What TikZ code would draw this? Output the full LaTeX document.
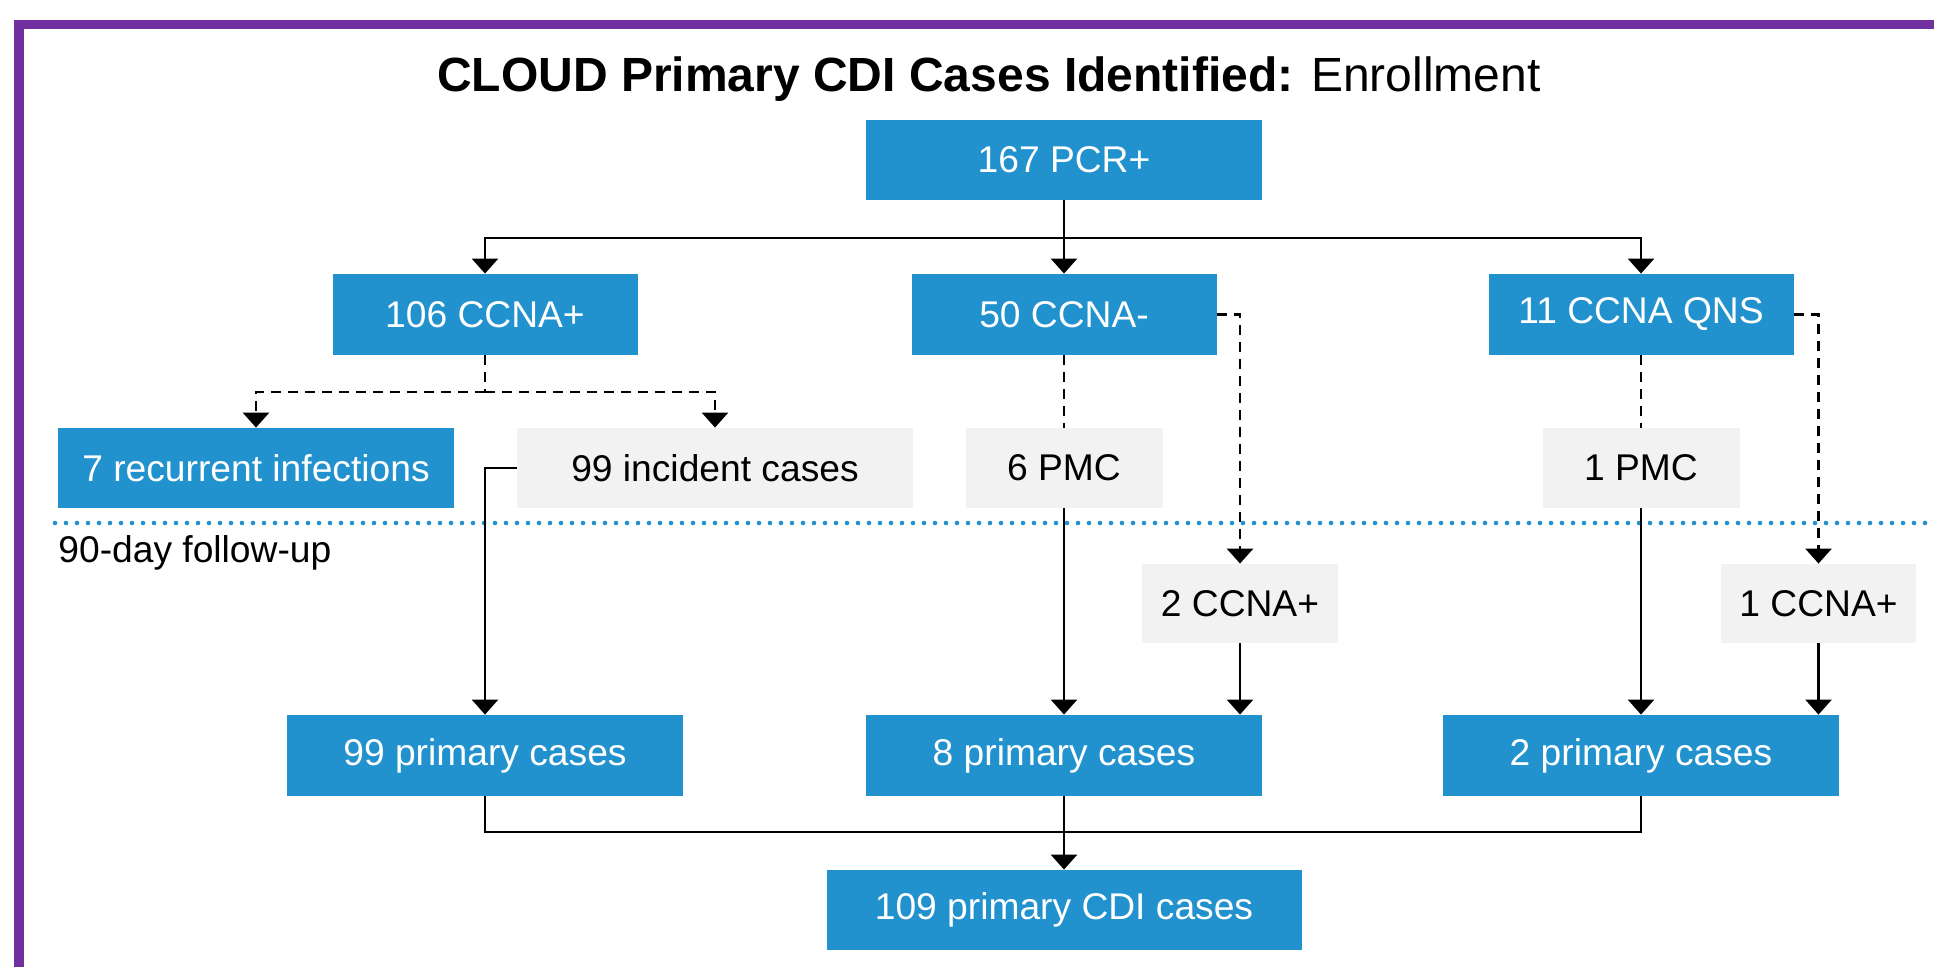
\documentclass[tikz,border=0pt]{standalone}
\usepackage{fontspec}
\setmainfont{Liberation Sans}
\usetikzlibrary{arrows.meta}
\definecolor{boxblue}{RGB}{33,146,206}
\definecolor{boxgray}{RGB}{242,242,242}
\definecolor{framepurple}{RGB}{112,48,160}
\tikzset{
  bluebox/.style={fill=boxblue,text=white,inner sep=0pt,font=\fontsize{18.6}{22}\selectfont},
  graybox/.style={fill=boxgray,text=black,inner sep=0pt,font=\fontsize{18.6}{22}\selectfont},
  conn/.style={line width=1.35pt,draw=black},
  arr/.style={conn,-{Triangle[length=7.5pt,width=13pt]}},
  dconn/.style={conn,dash pattern=on 5pt off 3.5pt},
  darr/.style={arr,dash pattern=on 5pt off 3.5pt},
}
\begin{document}
\begin{tikzpicture}[x=0.5pt,y=-0.5pt]
\useasboundingbox (0,0) rectangle (1934,967);
\clip (0,0) rectangle (1934,967);
\fill[white] (0,0) rectangle (1934,967);
% frame
\draw[framepurple,line width=4.8pt] (19,1000) -- (19,24.5) -- (1960,24.5);
% title
\node[font=\fontsize{24}{29}\selectfont] (title) at (989,79) {\textbf{CLOUD Primary CDI Cases Identified:} Enrollment};
% boxes
\node[bluebox,minimum width=198pt,minimum height=40pt] (pcr) at (1064,160) {167 PCR+};
\node[bluebox,minimum width=152.5pt,minimum height=40.5pt] (ccnap) at (485,314.5) {106 CCNA+};
\node[bluebox,minimum width=152.5pt,minimum height=40.5pt] (ccnam) at (1064,314.5) {50 CCNA-};
\node[bluebox,minimum width=152.5pt,minimum height=40.5pt] (ccnaq) at (1641,314.5) {11 CCNA QNS};
\node[bluebox,minimum width=198pt,minimum height=40pt] (rec) at (256,468) {7 recurrent infections};
\node[graybox,minimum width=198pt,minimum height=40pt] (inc) at (715,468) {99 incident cases};
\node[graybox,minimum width=98.5pt,minimum height=40pt] (pmcsix) at (1064,468) {6 PMC};
\node[graybox,minimum width=98.5pt,minimum height=40pt] (pmcone) at (1641,468) {1 PMC};
\node[graybox,minimum width=98pt,minimum height=39.5pt] (ctwo) at (1240,603.5) {2 CCNA+};
\node[graybox,minimum width=97.5pt,minimum height=39.5pt] (cone) at (1818.5,603.5) {1 CCNA+};
\node[bluebox,minimum width=198pt,minimum height=40.5pt] (pnn) at (485,755.5) {99 primary cases};
\node[bluebox,minimum width=198pt,minimum height=40.5pt] (pei) at (1064,755.5) {8 primary cases};
\node[bluebox,minimum width=198pt,minimum height=40.5pt] (ptw) at (1641,755.5) {2 primary cases};
\node[bluebox,minimum width=237.5pt,minimum height=40pt] (total) at (1064,910) {109 primary CDI cases};
% follow-up separator
\coordinate (sepL) at (55,523);
\coordinate (sepR) at (1940,523);
\draw[boxblue,line width=2.3pt,line cap=round,dash pattern=on 0pt off 5.5pt] (sepL) -- (sepR);
\node[anchor=west,inner sep=0pt,font=\fontsize{18.6}{22}\selectfont] (fu) at (58,553) {90-day follow-up};
% junctions
\coordinate (ja) at (1064,238);
\coordinate (jb) at (485,392);
\coordinate (jc) at (1064,832);
% connectors
\draw[conn] (pcr.south) -- (ja);
\draw[arr] (ja) -| (ccnap.north);
\draw[arr] (ja) -- (ccnam.north);
\draw[arr] (ja) -| (ccnaq.north);
\draw[dconn] (ccnap.south) -- (jb);
\draw[darr] (jb) -| (rec.north);
\draw[darr] (jb) -| (inc.north);
\draw[dconn] (ccnam.south) -- (pmcsix.north);
\draw[darr] (ccnam.east) -| (ctwo.north);
\draw[dconn] (ccnaq.south) -- (pmcone.north);
\draw[darr] (ccnaq.east) -| (cone.north);
\draw[arr] (inc.west) -| (pnn.north);
\draw[arr] (pmcsix.south) -- (pei.north);
\draw[arr] (ctwo.south) -- (ctwo.south |- pei.north);
\draw[arr] (pmcone.south) -- (ptw.north);
\draw[arr] (cone.south) -- (cone.south |- ptw.north);
\draw[conn] (pnn.south) |- (jc);
\draw[conn] (ptw.south) |- (jc);
\draw[arr] (pei.south) -- (total.north);
\end{tikzpicture}
\end{document}
